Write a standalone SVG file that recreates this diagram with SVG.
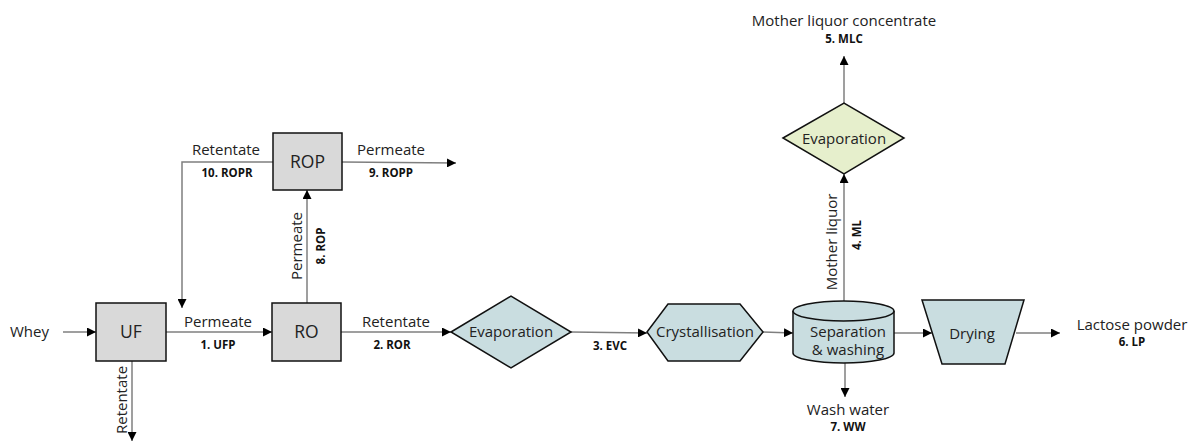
<svg xmlns="http://www.w3.org/2000/svg" width="1192" height="441" viewBox="0 0 1192 441">
<style>
text{font-family:"Open Sans","Noto Sans","Liberation Sans",sans-serif;fill:#222}
.lbl{font-size:15px}
.num{font-size:11.5px;font-weight:bold;fill:#111}
.node{font-size:17.5px;text-anchor:middle}
.nl{font-size:15px;text-anchor:middle}
.box{fill:#d9d9d9;stroke:#111;stroke-width:1.5}
.blue{fill:#c9dde0;stroke:#111;stroke-width:1.5}
.green{fill:#e6efcc;stroke:#111;stroke-width:1.5}
.c{fill:none;stroke:#7f7f7f;stroke-width:1.5}
.m{text-anchor:middle}
</style>
<defs>
<marker id="ah" viewBox="0 0 10 10" refX="10" refY="5" markerWidth="9" markerHeight="9" markerUnits="userSpaceOnUse" orient="auto">
<path d="M0,0 L10,5 L0,10 z" fill="#000"/>
</marker>
</defs>
<g id="connectors">
<path class="c" d="M63,332 H96" marker-end="url(#ah)"/>
<path class="c" d="M166,332 H272" marker-end="url(#ah)"/>
<path class="c" d="M132,361 V441" marker-end="url(#ah)"/>
<path class="c" d="M307,303 V190" marker-end="url(#ah)"/>
<path class="c" d="M273,162 H182 V308" marker-end="url(#ah)"/>
<path class="c" d="M342,162 L456,163" marker-end="url(#ah)"/>
<path class="c" d="M341,332 H451" marker-end="url(#ah)"/>
<path class="c" d="M571,332 L647,333" marker-end="url(#ah)"/>
<path class="c" d="M763,332 L793,333" marker-end="url(#ah)"/>
<path class="c" d="M844,301 V174" marker-end="url(#ah)"/>
<path class="c" d="M844,103 V56" marker-end="url(#ah)"/>
<path class="c" d="M845,363 V397" marker-end="url(#ah)"/>
<path class="c" d="M894,333 H932" marker-end="url(#ah)"/>
<path class="c" d="M1016,333 H1060" marker-end="url(#ah)"/>
</g>
<g id="labels">
<text class="lbl" x="10" y="337">Whey</text>
<text class="lbl m" x="218" y="327">Permeate</text>
<text class="num m" x="218" y="349">1. UFP</text>
<text class="lbl m" x="396" y="327">Retentate</text>
<text class="num m" x="392" y="349">2. ROR</text>
<text class="lbl m" transform="translate(127,400) rotate(-90)">Retentate</text>
<text class="lbl m" x="226" y="155">Retentate</text>
<text class="num m" x="227" y="177">10. ROPR</text>
<text class="lbl m" x="391" y="155">Permeate</text>
<text class="num m" x="391" y="177">9. ROPP</text>
<text class="lbl m" transform="translate(302,246) rotate(-90)">Permeate</text>
<text class="num m" transform="translate(325,246) rotate(-90)">8. ROP</text>
<text class="num m" x="610" y="350">3. EVC</text>
<text class="lbl m" transform="translate(837,242) rotate(-90)">Mother liquor</text>
<text class="num m" transform="translate(861,235) rotate(-90)">4. ML</text>
<text class="lbl m" x="844" y="26">Mother liquor concentrate</text>
<text class="num m" x="844" y="43">5. MLC</text>
<text class="lbl m" x="848" y="415">Wash water</text>
<text class="num m" x="848" y="431">7. WW</text>
<text class="lbl m" x="1132" y="330">Lactose powder</text>
<text class="num m" x="1132" y="346">6. LP</text>
</g>
<g id="UF">
<rect class="box" x="96" y="303" width="70" height="58"/>
<text class="node" x="131" y="338">UF</text>
</g>
<g id="RO">
<rect class="box" x="272" y="303" width="69" height="58"/>
<text class="node" x="306.5" y="338">RO</text>
</g>
<g id="ROP">
<rect class="box" x="273" y="133" width="69" height="57"/>
<text class="node" x="307.5" y="168">ROP</text>
</g>
<g id="Evaporation1">
<polygon class="blue" points="451,332 511,296 571,332 511,368"/>
<text class="nl" x="511" y="337">Evaporation</text>
</g>
<g id="Crystallisation">
<polygon class="blue" points="647,332 668,304 740,304 763,332 740,361 668,361"/>
<text class="nl" x="705" y="337">Crystallisation</text>
</g>
<g id="Separation">
<path class="blue" d="M793,311 V353 A50.5,10 0 0 0 894,353 V311"/>
<ellipse class="blue" cx="843.5" cy="311" rx="50.5" ry="10"/>
<text class="nl" x="848" y="337">Separation</text>
<text class="nl" x="848" y="355">&amp; washing</text>
</g>
<g id="Evaporation2">
<polygon class="green" points="783,138 844,103 904,138 844,174"/>
<text class="nl" x="844" y="144">Evaporation</text>
</g>
<g id="Drying">
<polygon class="blue" points="922,300 1024,300 1005,364 942,364"/>
<text class="nl" x="972" y="339">Drying</text>
</g>
</svg>
